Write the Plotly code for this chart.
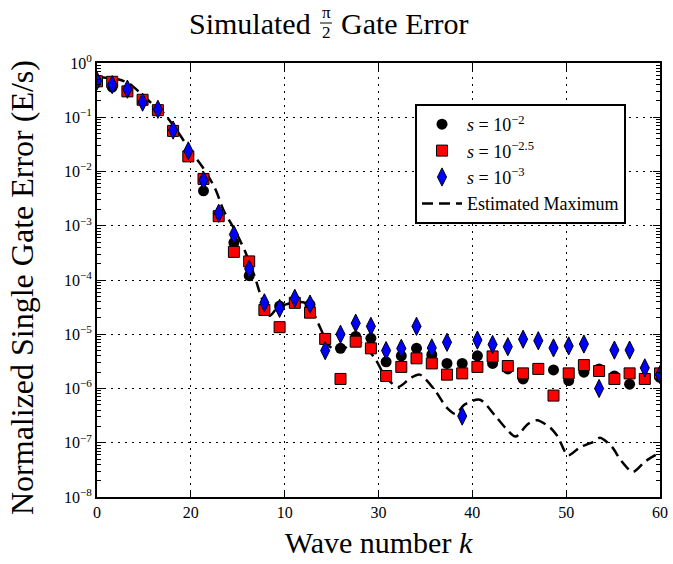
import plotly.graph_objects as go

# ---------------- data ----------------
k_points = [0.00, 1.62, 3.24, 4.86, 6.49, 8.11, 9.73, 11.35, 12.97, 14.59,
            16.22, 17.84, 19.46, 21.08, 22.70, 24.32, 25.95, 27.57, 29.19, 30.81,
            32.43, 34.05, 35.68, 37.30, 38.92, 40.54, 42.16, 43.78, 45.41, 47.03,
            48.65, 50.27, 51.89, 53.51, 55.14, 56.76, 58.38, 60.00]

err_s2 = [0.44, 0.36, 0.30, 0.20, 0.14, 0.056, 0.020, 0.0044, 0.0016, 4.9e-4,
          1.2e-4, 3.0e-5, 3.3e-5, 4.0e-5, 3.5e-5, 8.0e-6, 5.5e-6, 9.1e-6, 8.4e-6, 3.1e-6,
          4.0e-6, 5.5e-6, 4.2e-6, 2.9e-6, 2.9e-6, 4.0e-6, 2.9e-6, 2.3e-6, 1.5e-6, 2.3e-6,
          2.2e-6, 1.4e-6, 2.0e-6, 2.3e-6, 1.7e-6, 1.2e-6, 1.6e-6, 1.6e-6]

err_s25 = [0.46, 0.45, 0.30, 0.21, 0.135, 0.056, 0.019, 0.0073, 0.0015, 3.3e-4,
           2.2e-4, 2.8e-5, 1.35e-5, 3.8e-5, 2.5e-5, 8.2e-6, 1.5e-6, 7.3e-6, 5.5e-6, 1.7e-6,
           2.5e-6, 3.6e-6, 2.9e-6, 1.8e-6, 1.9e-6, 2.5e-6, 3.9e-6, 2.6e-6, 1.9e-6, 2.3e-6,
           7.4e-7, 1.9e-6, 2.7e-6, 2.1e-6, 1.5e-6, 1.9e-6, 1.5e-6, 1.9e-6]

err_s3 = [0.47, 0.40, 0.33, 0.19, 0.14, 0.058, 0.024, 0.0069, 0.0017, 6.9e-4,
          1.6e-4, 3.8e-5, 3.0e-5, 4.6e-5, 3.6e-5, 5.0e-6, 1.0e-5, 1.6e-5, 1.4e-5, 5.0e-6,
          5.5e-6, 1.4e-5, 5.6e-6, 7.1e-6, 3.1e-7, 7.8e-6, 6.5e-6, 5.9e-6, 8.1e-6, 7.6e-6,
          5.6e-6, 6.1e-6, 6.6e-6, 1.0e-6, 5.1e-6, 5.1e-6, 2.4e-6, 1.8e-6]

k_max = [0, 1.6, 2.45, 3.5, 4.8, 6.0, 7.1, 8.6, 9.9, 11.3,
         12.6, 13.5, 14.7, 15.8, 16.8, 17.5, 18.4, 19.3, 20.3, 21.1,
         22.2, 23.0, 23.8, 24.8, 25.9, 27.0, 28.0, 29.6, 30.8, 32.1,
         33.4, 34.4, 36.0, 37.3, 38.2, 39.2, 40.8, 42.4, 43.5, 44.6,
         45.9, 46.9, 48.3, 49.1, 50.2, 51.5, 52.8, 53.6, 54.9, 55.8,
         57.1, 58.4, 59.5, 60]
est_max = [0.55, 0.52, 0.49, 0.41, 0.26, 0.17, 0.12, 0.054, 0.025, 0.0117,
           0.0048, 0.0019, 8.3e-4, 3.3e-4, 1.17e-4, 4.9e-5, 2.2e-5, 3.2e-5, 3.6e-5, 3.9e-5,
           3.8e-5, 2.6e-5, 1.3e-5, 6.0e-6, 4.9e-6, 6.6e-6, 7.2e-6, 3.6e-6, 1.6e-6, 1.07e-6,
           1.55e-6, 1.8e-6, 9.3e-7, 4.4e-7, 3.4e-7, 5.1e-7, 6.2e-7, 3.2e-7, 1.9e-7, 1.3e-7,
           2.2e-7, 2.6e-7, 1.9e-7, 1.3e-7, 5.9e-8, 8.3e-8, 1.02e-7, 1.23e-7, 8.3e-8, 4.8e-8,
           2.9e-8, 4.5e-8, 5.9e-8, 6.5e-8]

x_tickvals = [0, 10, 20, 30, 40, 50, 60]
x_ticktext = ["0", "20", "10", "30", "40", "50", "60"]
y_tickvals = [1e-8, 1e-7, 1e-6, 1e-5, 1e-4, 1e-3, 1e-2, 1e-1, 1]
y_ticktext = ["10<sup>−8</sup>", "10<sup>−7</sup>", "10<sup>−6</sup>", "10<sup>−5</sup>",
              "10<sup>−4</sup>", "10<sup>−3</sup>", "10<sup>−2</sup>", "10<sup>−1</sup>",
              "10<sup>0</sup>"]
minor_vals = [m * 10.0 ** e for e in range(-8, 0) for m in range(2, 10)]

names = ["<i>s</i> = 10<sup>−2</sup>", "<i>s</i> = 10<sup>−2.5</sup>",
         "<i>s</i> = 10<sup>−3</sup>", "Estimated Maximum"]

SERIF = "Liberation Serif, Times New Roman, serif"

# plot-area pixel geometry
L, R, T, B = 97, 660, 63, 497

def px_to_paper_x(px):
    return (px - L) / (R - L)

def px_to_paper_y(py):
    return (B - py) / (B - T)

fig = go.Figure()

fig.add_trace(go.Scatter(x=k_max, y=est_max, mode="lines", name=names[3],
                         line=dict(color="black", width=2.5, dash="11px,6px", shape="spline",
                                   smoothing=0.8),
                         legendrank=4))
fig.add_trace(go.Scatter(x=k_points, y=err_s2, mode="markers", name=names[0],
                         marker=dict(symbol="circle", size=11, color="black",
                                     line=dict(width=0)),
                         legendrank=1))
fig.add_trace(go.Scatter(x=k_points, y=err_s25, mode="markers", name=names[1],
                         marker=dict(symbol="square", size=11, color="#ff0000",
                                     line=dict(width=1, color="black")),
                         legendrank=2))
fig.add_trace(go.Scatter(x=k_points, y=err_s3, mode="markers", name=names[2],
                         marker=dict(symbol="diamond-tall", size=13, color="#0000ff",
                                     line=dict(width=1, color="black")),
                         legendrank=3))

axis_common = dict(showline=True, linecolor="black", linewidth=2, mirror="allticks",
                   ticks="inside", ticklen=7, tickwidth=1, tickcolor="black",
                   showgrid=True, gridcolor="black", gridwidth=1, griddash="2px,5px",
                   zeroline=False, tickfont=dict(family=SERIF, size=16, color="black"))

fig.update_xaxes(range=[0, 60], tickvals=x_tickvals, ticktext=x_ticktext,
                 title=dict(text="Wave number <i>k</i>",
                            font=dict(family=SERIF, size=30, color="black"), standoff=12),
                 **axis_common)
fig.update_yaxes(type="log", range=[-8, 0], tickvals=y_tickvals, ticktext=y_ticktext,
                 minor=dict(ticks="inside", ticklen=4, tickwidth=1, tickcolor="black",
                            tickvals=minor_vals, showgrid=False),
                 **axis_common)

fig.update_layout(
    width=673, height=564,
    margin=dict(l=L, r=673 - R, t=T, b=564 - B, autoexpand=False),
    paper_bgcolor="white", plot_bgcolor="white",
    showlegend=True,
    legend=dict(x=px_to_paper_x(415), y=px_to_paper_y(104), xanchor="left", yanchor="top",
                bgcolor="white", bordercolor="black", borderwidth=2,
                font=dict(family=SERIF, size=18, color="black"),
                tracegroupgap=0, itemwidth=40),
)

# y-axis title placed as rotated annotation
fig.add_annotation(text="Normalized Single Gate Error (E/s)",
                   x=px_to_paper_x(22), y=px_to_paper_y(288),
                   xref="paper", yref="paper", xanchor="center", yanchor="middle",
                   textangle=-90, showarrow=False,
                   font=dict(family=SERIF, size=32, color="black"))

# Title: "Simulated  π/2  Gate Error" with stacked fraction
title_font = dict(family=SERIF, size=30, color="black")
fig.add_annotation(text="Simulated", x=px_to_paper_x(313), y=px_to_paper_y(24),
                   xref="paper", yref="paper", xanchor="right", yanchor="middle",
                   showarrow=False, font=title_font)
fig.add_annotation(text="π", x=px_to_paper_x(326), y=px_to_paper_y(13),
                   xref="paper", yref="paper", xanchor="center", yanchor="middle",
                   showarrow=False, font=dict(family=SERIF, size=17, color="black"))
fig.add_annotation(text="2", x=px_to_paper_x(326), y=px_to_paper_y(33),
                   xref="paper", yref="paper", xanchor="center", yanchor="middle",
                   showarrow=False, font=dict(family=SERIF, size=17, color="black"))
fig.add_annotation(text="Gate Error", x=px_to_paper_x(339), y=px_to_paper_y(24),
                   xref="paper", yref="paper", xanchor="left", yanchor="middle",
                   showarrow=False, font=title_font)
fig.add_shape(type="line", xref="paper", yref="paper",
              x0=px_to_paper_x(320), x1=px_to_paper_x(332),
              y0=px_to_paper_y(23), y1=px_to_paper_y(23),
              line=dict(color="black", width=1))

fig.write_html("out.html", config={"displayModeBar": False},
               post_script="document.body.style.margin='0';")
